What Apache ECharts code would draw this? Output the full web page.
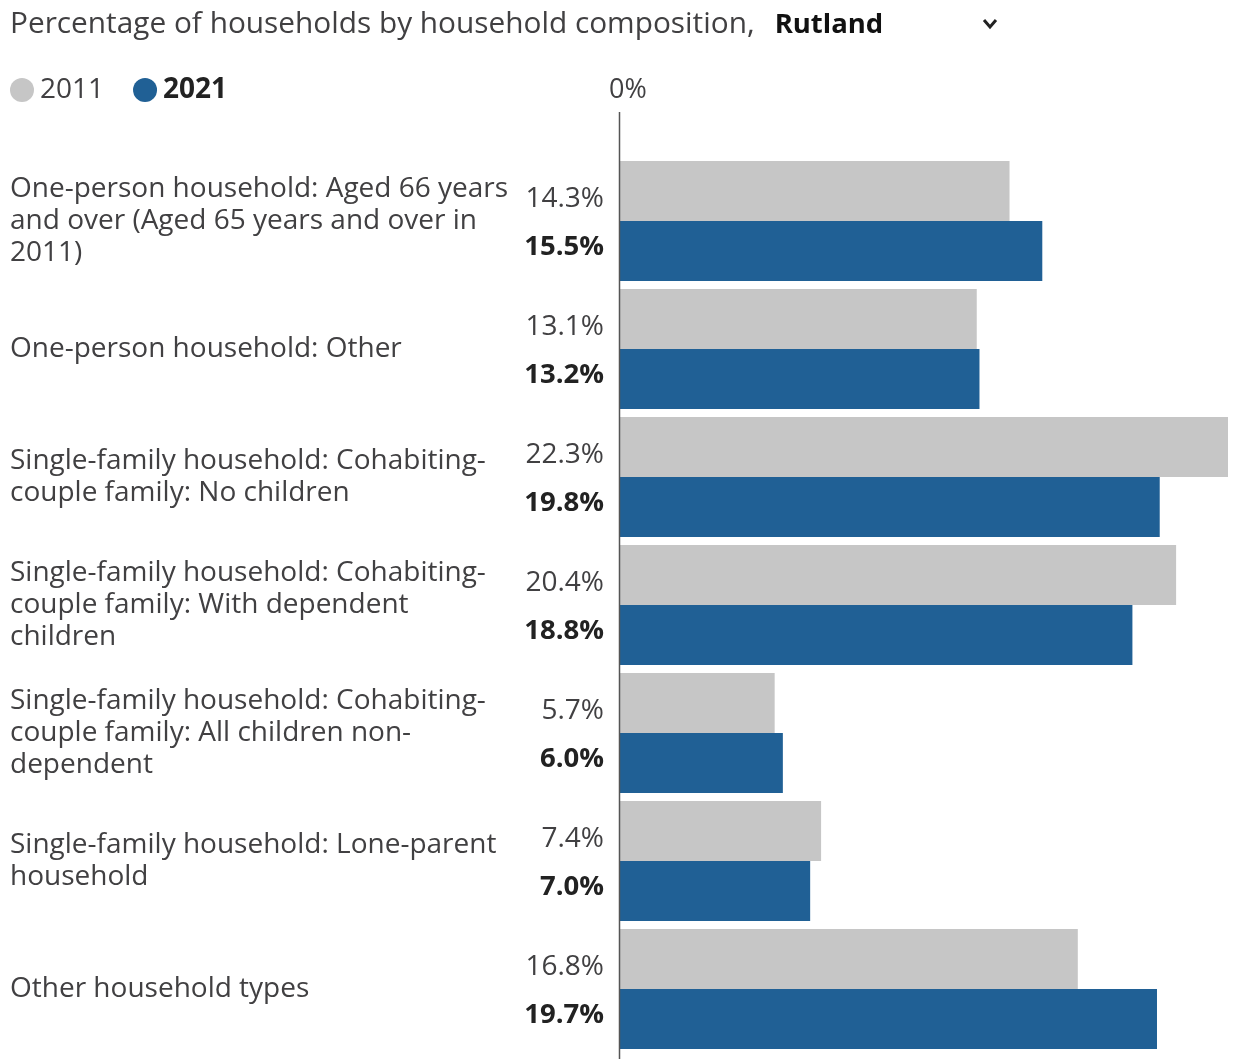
<!DOCTYPE html>
<html>
<head>
<meta charset="utf-8">
<script src="https://cdn.jsdelivr.net/npm/echarts@6/dist/echarts.min.js"></script>
<style>
html,body{margin:0;padding:0;background:#fff;}
#main{width:1238px;height:1059px;}
</style>
</head>
<body>
<div id="main"></div>
<script>
const categories = [
  "One-person household: Aged 66 years\nand over (Aged 65 years and over in\n2011)",
  "One-person household: Other",
  "Single-family household: Cohabiting-\ncouple family: No children",
  "Single-family household: Cohabiting-\ncouple family: With dependent\nchildren",
  "Single-family household: Cohabiting-\ncouple family: All children non-\ndependent",
  "Single-family household: Lone-parent\nhousehold",
  "Other household types"
];
const values2011 = [14.3, 13.1, 22.3, 20.4, 5.7, 7.4, 16.8];
const values2021 = [15.5, 13.2, 19.8, 18.8, 6.0, 7.0, 19.7];
const seriesNames = ["2011", "2021"];
const areaName = "Rutland";

const FONT = "'Open Sans', sans-serif";
const chart = echarts.init(document.getElementById('main'));
const option = {
  animation: false,
  textStyle: { fontFamily: FONT },
  title: {
    left: 10, top: 10, padding: 0,
    text: '{a|Percentage of households by household composition,}{sp| }{b|' + areaName + '}',
    textStyle: {
      fontWeight: 'normal',
      rich: {
        a: { fontFamily: FONT, fontSize: 29.8, color: '#414042', fontWeight: 'normal' },
        sp: { fontFamily: FONT, fontSize: 28, width: 20 },
        b: { fontFamily: FONT, fontSize: 27.5, color: '#111111', fontWeight: 'bold' }
      }
    }
  },
  legend: {
    left: 10, top: 76, padding: 0,
    icon: 'circle', itemWidth: 24, itemHeight: 24, itemGap: 29,
    textStyle: { fontFamily: FONT, fontSize: 28, color: '#414042', padding: [0, 0, 0, 1] },
    data: [
      { name: seriesNames[0] },
      { name: seriesNames[1], textStyle: { fontWeight: 'bold', color: '#222222' } }
    ]
  },
  grid: { left: 619, right: 10, top: 157, bottom: 6, containLabel: false },
  xAxis: {
    type: 'value', position: 'top', min: 0, max: 22.3,
    axisLine: { show: false }, axisTick: { show: false }, splitLine: { show: false },
    axisLabel: {
      margin: 53, fontSize: 27, color: '#414042', fontFamily: FONT,
      padding: [0, 0, 0, 18],
      formatter: v => (v === 0 ? '0%' : '')
    }
  },
  yAxis: {
    type: 'category', inverse: true, data: categories,
    axisLine: { show: false }, axisTick: { show: false },
    axisLabel: {
      align: 'left', margin: 609, fontSize: 28, lineHeight: 32,
      color: '#414042', fontFamily: FONT
    }
  },
  series: [
    {
      name: seriesNames[0], type: 'bar', data: values2011,
      barWidth: 60, barGap: '0%',
      itemStyle: { color: '#c6c6c6' },
      label: {
        show: true, position: 'left', distance: 15, offset: [0, 8],
        fontSize: 28, color: '#414042', fontFamily: FONT,
        formatter: p => p.value.toFixed(1) + '%'
      }
    },
    {
      name: seriesNames[1], type: 'bar', data: values2021,
      barWidth: 60, barGap: '0%',
      itemStyle: { color: '#206095' },
      label: {
        show: true, position: 'left', distance: 15, offset: [0, -4],
        fontSize: 27.5, fontWeight: 'bold', color: '#222222', fontFamily: FONT,
        formatter: p => p.value.toFixed(1) + '%'
      }
    }
  ]
};
chart.setOption(option);
const x0 = chart.convertToPixel({ xAxisIndex: 0 }, 0);
chart.setOption({
  graphic: [
    { type: 'line', shape: { x1: x0 + 0.5, y1: 112, x2: x0 + 0.5, y2: 1059 }, style: { stroke: '#555555', lineWidth: 1.5 }, z: 10 },
    { type: 'polyline', shape: { points: [[984, 20], [990, 27], [996, 20]] }, style: { stroke: '#222222', lineWidth: 3, fill: null } }
  ]
});
</script>
</body>
</html>
